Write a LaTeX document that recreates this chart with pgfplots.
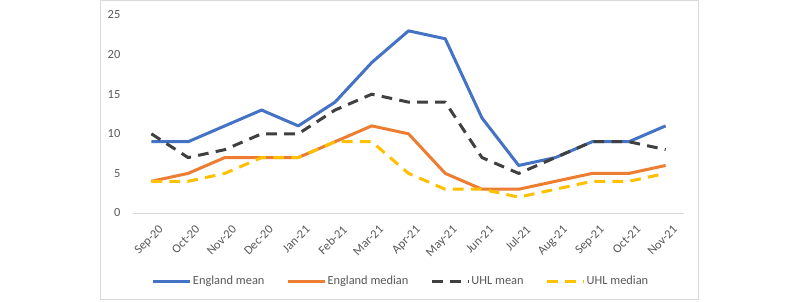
\documentclass[border=0pt]{standalone}
\usepackage{pgfplots}
\pgfplotsset{compat=1.18}
\usepackage{fontspec}
\setmainfont{Carlito}
\definecolor{cblue}{HTML}{4472C4}
\definecolor{corange}{HTML}{ED7D31}
\definecolor{cgray}{HTML}{404040}
\definecolor{cgold}{HTML}{FFC000}
\definecolor{ctext}{HTML}{595959}
\definecolor{cline}{HTML}{D9D9D9}
\begin{document}
\begin{tikzpicture}
\useasboundingbox (0pt,0pt) rectangle (600pt,225.75pt);
\fill[white] (0pt,0pt) rectangle (600pt,225.75pt);
\draw[cline, line width=0.75pt] (75.4pt,1.2pt) rectangle (524.2pt,225.2pt);
\begin{axis}[
  at={(99.75pt,66pt)}, anchor=south west,
  scale only axis, width=413.25pt, height=148.5pt,
  xmin=-0.5, xmax=14.5, ymin=0, ymax=25,
  axis lines*=left,
  y axis line style={draw=none},
  x axis line style={cline, line width=0.75pt},
  clip=false,
  xtick={0,...,14},
  xticklabels={Sep-20,Oct-20,Nov-20,Dec-20,Jan-21,Feb-21,Mar-21,Apr-21,May-21,Jun-21,Jul-21,Aug-21,Sep-21,Oct-21,Nov-21},
  x tick style={draw=none},
  extra x ticks={-0.5,0.5,...,14.5},
  extra x tick labels={},
  extra x tick style={major tick length=3pt, tick align=outside, tick style={draw=cline, line width=0.75pt}},
  ytick={0,5,...,25},
  y tick style={draw=none},
  /pgf/number format/assume math mode=true,
  ticklabel style={font=\fontsize{9.3}{11}\selectfont, text=ctext},
  yticklabel style={anchor=east, xshift=-6pt},
  xticklabel style={rotate=45, anchor=north east, inner sep=1pt, yshift=-8.5pt, xshift=-1.5pt},
  legend columns=4,
  legend style={at={(0.486,-0.345)}, anchor=center, draw=none, fill=none,
    font=\fontsize{9.3}{11}\selectfont, text=ctext,
    nodes={inner sep=1pt},
    /tikz/every even column/.append style={column sep=15.5pt}},
  legend image code/.code={\draw[#1] (0pt,0pt) -- (27.5pt,0pt);},
]
\addplot[cblue, line width=2.25pt, line join=round] coordinates {
(0,9)(1,9)(2,11)(3,13)(4,11)(5,14)(6,19)(7,23)(8,22)(9,12)(10,6)(11,7)(12,9)(13,9)(14,11)};
\addlegendentry{England mean}
\addplot[corange, line width=2.25pt, line join=round] coordinates {
(0,4)(1,5)(2,7)(3,7)(4,7)(5,9)(6,11)(7,10)(8,5)(9,3)(10,3)(11,4)(12,5)(13,5)(14,6)};
\addlegendentry{England median}
\addplot[cgray, line width=2.25pt, line join=round, dash pattern=on 8pt off 5.5pt] coordinates {
(0,10)(1,7)(2,8)(3,10)(4,10)(5,13)(6,15)(7,14)(8,14)(9,7)(10,5)(11,7)(12,9)(13,9)(14,8)};
\addlegendentry{UHL mean}
\addplot[cgold, line width=2.25pt, line join=round, dash pattern=on 8pt off 5.5pt] coordinates {
(0,4)(1,4)(2,5)(3,7)(4,7)(5,9)(6,9)(7,5)(8,3)(9,3)(10,2)(11,3)(12,4)(13,4)(14,5)};
\addlegendentry{UHL median}
\end{axis}
\end{tikzpicture}
\end{document}
